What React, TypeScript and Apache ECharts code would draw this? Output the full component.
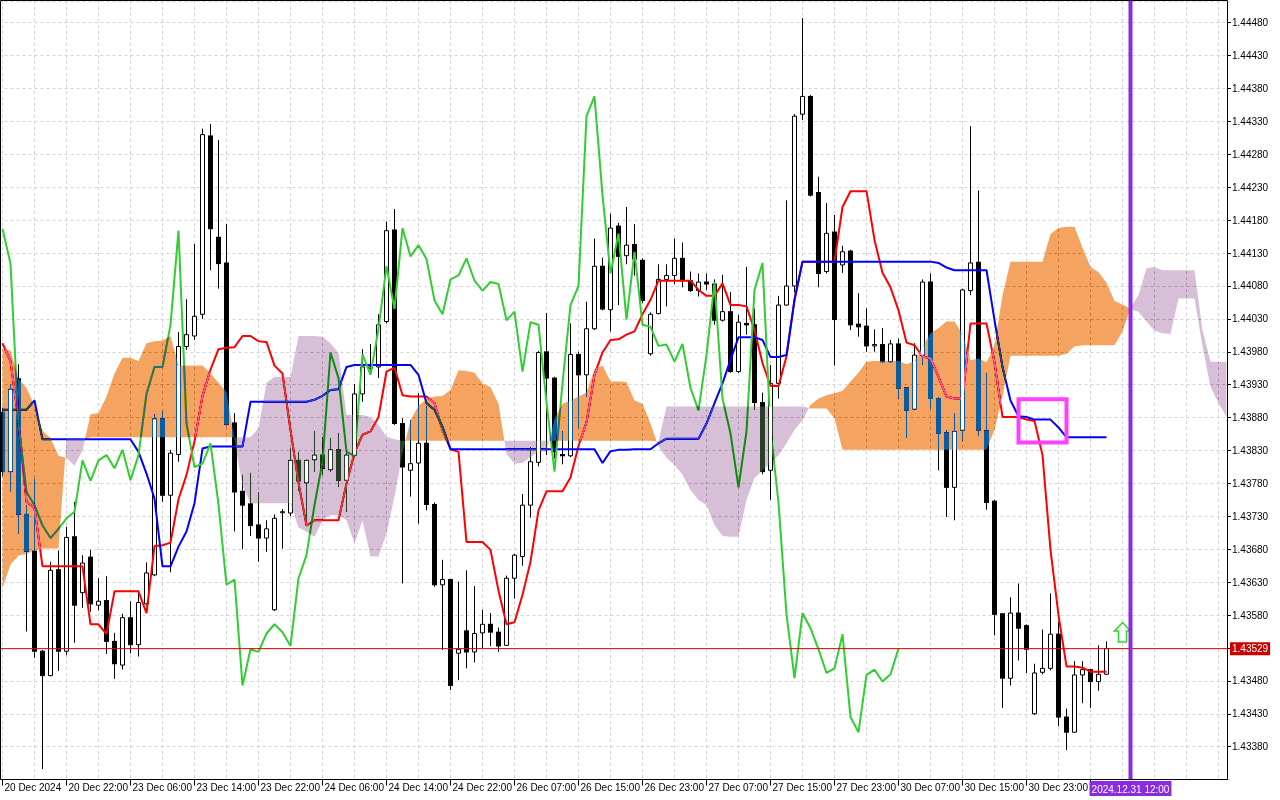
import React, { useEffect, useRef } from "react";
import * as echarts from "echarts";

// ---------- data (H1 bars, bar 0 = 20 Dec 14:00) ----------
const tickLabels = [
  "20 Dec 2024", "20 Dec 22:00", "23 Dec 06:00", "23 Dec 14:00", "23 Dec 22:00",
  "24 Dec 06:00", "24 Dec 14:00", "24 Dec 22:00", "26 Dec 07:00", "26 Dec 15:00",
  "26 Dec 23:00", "27 Dec 07:00", "27 Dec 15:00", "27 Dec 23:00", "30 Dec 07:00",
  "30 Dec 15:00", "30 Dec 23:00",
];

const open = [
  1.43888, 1.43798, 1.43939, 1.43733, 1.43677, 1.43525, 1.43488, 1.43649, 1.43525, 1.43699,
  1.43614, 1.43668, 1.43595, 1.43602, 1.43540, 1.43504, 1.43576, 1.43535, 1.43597, 1.43641,
  1.43878, 1.43762, 1.43824, 1.43988, 1.44004, 1.44037, 1.44308, 1.44154, 1.44115, 1.43872,
  1.43768, 1.43749, 1.43717, 1.43697, 1.43588, 1.43736, 1.43735, 1.43815, 1.43781, 1.43816,
  1.43823, 1.43801, 1.43831, 1.43785, 1.43823, 1.43916, 1.43955, 1.43957, 1.44026, 1.44165,
  1.43871, 1.43800, 1.43811, 1.43841, 1.43748, 1.43626, 1.43634, 1.43522, 1.43556, 1.43524,
  1.43553, 1.43566, 1.43554, 1.43534, 1.43636, 1.43669, 1.43747, 1.43812, 1.43980, 1.43940,
  1.43824, 1.43822, 1.43976, 1.43945, 1.44015, 1.44110, 1.44044, 1.44171, 1.44126, 1.44143,
  1.44119, 1.43977, 1.44038, 1.44090, 1.44096, 1.44122, 1.44088, 1.44073, 1.44086, 1.44083,
  1.44028, 1.44041, 1.43950, 1.44023, 1.44021, 1.43903, 1.43800, 1.43932, 1.44051, 1.44080,
  1.44341, 1.44368, 1.44222, 1.44102, 1.44162, 1.44112, 1.44133, 1.44022, 1.44019, 1.43989,
  1.43991, 1.43965, 1.43992, 1.43925, 1.43893, 1.43975, 1.44086, 1.43909, 1.43857, 1.43774,
  1.43861, 1.44073, 1.44116, 1.43860, 1.43753, 1.43582, 1.43484, 1.43583, 1.43564, 1.43430,
  1.43493, 1.43499, 1.43551, 1.43425, 1.43402, 1.43489, 1.43497, 1.43479, 1.43490,
];

const high = [
  1.43895, 1.43930, 1.43961, 1.43747, 1.43787, 1.43527, 1.43661, 1.43678, 1.43714, 1.43752,
  1.43671, 1.43679, 1.43636, 1.43639, 1.43553, 1.43582, 1.43601, 1.43617, 1.43660, 1.43885,
  1.43890, 1.43831, 1.44010, 1.44060, 1.44144, 1.44319, 1.44326, 1.44302, 1.44174, 1.43887,
  1.43793, 1.43796, 1.43767, 1.43724, 1.43733, 1.43741, 1.43833, 1.43828, 1.43816, 1.43859,
  1.43850, 1.43849, 1.43856, 1.43833, 1.43931, 1.43984, 1.43992, 1.44037, 1.44178, 1.44197,
  1.43879, 1.43876, 1.43917, 1.43897, 1.43751, 1.43664, 1.43635, 1.43631, 1.43648, 1.43624,
  1.43588, 1.43583, 1.43561, 1.43640, 1.43673, 1.43764, 1.43835, 1.43981, 1.44039, 1.43942,
  1.43859, 1.44023, 1.43980, 1.44056, 1.44152, 1.44123, 1.44190, 1.44176, 1.44200, 1.44174,
  1.44122, 1.44040, 1.44113, 1.44113, 1.44152, 1.44146, 1.44102, 1.44099, 1.44099, 1.44090,
  1.44097, 1.44071, 1.44036, 1.44109, 1.44046, 1.43918, 1.43960, 1.44065, 1.44210, 1.44341,
  1.44487, 1.44370, 1.44246, 1.44206, 1.44188, 1.44141, 1.44135, 1.44069, 1.44046, 1.44014,
  1.44016, 1.43998, 1.44000, 1.43926, 1.43993, 1.44090, 1.44099, 1.43911, 1.43861, 1.43887,
  1.44076, 1.44323, 1.44225, 1.43948, 1.43755, 1.43583, 1.43607, 1.43628, 1.43566, 1.43506,
  1.43558, 1.43613, 1.43570, 1.43438, 1.43510, 1.43510, 1.43498, 1.43534, 1.43540,
];

const low = [
  1.43791, 1.43768, 1.43704, 1.43555, 1.43515, 1.43346, 1.43487, 1.43495, 1.43519, 1.43538,
  1.43591, 1.43585, 1.43587, 1.43521, 1.43483, 1.43497, 1.43522, 1.43517, 1.43595, 1.43639,
  1.43752, 1.43645, 1.43813, 1.43983, 1.43998, 1.44030, 1.44104, 1.44076, 1.43867, 1.43707,
  1.43680, 1.43700, 1.43661, 1.43676, 1.43586, 1.43681, 1.43730, 1.43769, 1.43724, 1.43798,
  1.43793, 1.43798, 1.43775, 1.43737, 1.43821, 1.43904, 1.43945, 1.43940, 1.44023, 1.43869,
  1.43628, 1.43760, 1.43719, 1.43739, 1.43623, 1.43527, 1.43466, 1.43481, 1.43499, 1.43508,
  1.43530, 1.43533, 1.43524, 1.43533, 1.43605, 1.43655, 1.43728, 1.43806, 1.43823, 1.43818,
  1.43809, 1.43820, 1.43864, 1.43912, 1.44013, 1.44043, 1.44011, 1.44051, 1.44113, 1.44096,
  1.44054, 1.43974, 1.44037, 1.44049, 1.44083, 1.44078, 1.44071, 1.44064, 1.44074, 1.44021,
  1.44026, 1.43948, 1.43948, 1.44006, 1.43892, 1.43794, 1.43755, 1.43909, 1.44050, 1.44070,
  1.44332, 1.44216, 1.44078, 1.44099, 1.43959, 1.44100, 1.44013, 1.44003, 1.43980, 1.43980,
  1.43963, 1.43963, 1.43909, 1.43849, 1.43892, 1.43960, 1.43894, 1.43800, 1.43729, 1.43724,
  1.43845, 1.44066, 1.43852, 1.43740, 1.43549, 1.43439, 1.43473, 1.43511, 1.43492, 1.43428,
  1.43490, 1.43496, 1.43411, 1.43375, 1.43401, 1.43446, 1.43439, 1.43465, 1.43489,
];

const close = [
  1.43798, 1.43923, 1.43733, 1.43677, 1.43525, 1.43488, 1.43648, 1.43525, 1.43698, 1.43595,
  1.43659, 1.43597, 1.43601, 1.43540, 1.43506, 1.43576, 1.43535, 1.43599, 1.43644, 1.43878,
  1.43762, 1.43826, 1.43988, 1.44006, 1.44034, 1.44310, 1.44167, 1.44114, 1.43870, 1.43767,
  1.43747, 1.43716, 1.43697, 1.43711, 1.43727, 1.43737, 1.43815, 1.43784, 1.43815, 1.43823,
  1.43803, 1.43831, 1.43785, 1.43823, 1.43916, 1.43957, 1.43957, 1.44021, 1.44164, 1.43871,
  1.43805, 1.43810, 1.43841, 1.43748, 1.43626, 1.43634, 1.43473, 1.43528, 1.43524, 1.43552,
  1.43566, 1.43554, 1.43533, 1.43636, 1.43671, 1.43747, 1.43813, 1.43979, 1.43940, 1.43828,
  1.43822, 1.43976, 1.43945, 1.44015, 1.44110, 1.44045, 1.44168, 1.44125, 1.44142, 1.44121,
  1.44058, 1.44037, 1.44090, 1.44096, 1.44122, 1.44088, 1.44073, 1.44086, 1.44083, 1.44028,
  1.44041, 1.43950, 1.44025, 1.44021, 1.43903, 1.43798, 1.43932, 1.44051, 1.44080, 1.44338,
  1.44368, 1.44218, 1.44099, 1.44160, 1.44029, 1.44132, 1.44021, 1.44018, 1.43989, 1.43991,
  1.43965, 1.43992, 1.43925, 1.43891, 1.43975, 1.44086, 1.43909, 1.43856, 1.43774, 1.43859,
  1.44074, 1.44115, 1.43861, 1.43751, 1.43581, 1.43484, 1.43583, 1.43560, 1.43528, 1.43492,
  1.43499, 1.43551, 1.43425, 1.43402, 1.43489, 1.43497, 1.43479, 1.43490, 1.43529,
];

// Tenkan-sen (red)
const tenkan = [
  1.43993, 1.43966, 1.43876, 1.43752, 1.43743, 1.43654, 1.43654, 1.43654, 1.43654, 1.43654,
  1.43654, 1.43566, 1.43566, 1.43551, 1.43616, 1.43616, 1.43616, 1.43616, 1.43583, 1.43685,
  1.43686, 1.43690, 1.43756, 1.43793, 1.43844, 1.43913, 1.43953, 1.43984, 1.43986, 1.43987,
  1.44004, 1.44004, 1.43996, 1.43995, 1.43959, 1.43947, 1.43861, 1.43781, 1.43716, 1.43724,
  1.43724, 1.43724, 1.43724, 1.43780, 1.43826, 1.43854, 1.43859, 1.43881, 1.43950, 1.43956,
  1.43914, 1.43912, 1.43912, 1.43912, 1.43902, 1.43861, 1.43832, 1.43828, 1.43691, 1.43691,
  1.43691, 1.43679, 1.43617, 1.43566, 1.43569, 1.43611, 1.43661, 1.43739, 1.43768, 1.43768,
  1.43768, 1.43789, 1.43837, 1.43873, 1.43945, 1.43979, 1.43998, 1.43999, 1.44006, 1.44011,
  1.44037, 1.44059, 1.44088, 1.44088, 1.44088, 1.44088, 1.44088, 1.44074, 1.44065, 1.44065,
  1.44084, 1.44051, 1.44051, 1.44049, 1.44013, 1.43963, 1.43928, 1.43928, 1.43973, 1.44059,
  1.44117, 1.44117, 1.44117, 1.44117, 1.44117, 1.44200, 1.44224, 1.44224, 1.44224, 1.44150,
  1.44100, 1.44078, 1.44043, 1.43994, 1.43990, 1.43973, 1.43970, 1.43942, 1.43912, 1.43909,
  1.43909, 1.44023, 1.44023, 1.44023, 1.43964, 1.43881, 1.43881, 1.43881, 1.43877, 1.43875,
  1.43823, 1.43679, 1.43580, 1.43502, 1.43502, 1.43500, 1.43494, 1.43494, 1.43494,
];

// Kijun-sen (blue)
const kijun = [
  1.43892, 1.43892, 1.43892, 1.43892, 1.43906, 1.43847, 1.43847, 1.43847, 1.43847, 1.43847,
  1.43847, 1.43847, 1.43847, 1.43847, 1.43847, 1.43847, 1.43847, 1.43828, 1.43795, 1.43757,
  1.43654, 1.43654, 1.43684, 1.43707, 1.43750, 1.43833, 1.43836, 1.43836, 1.43836, 1.43836,
  1.43836, 1.43904, 1.43904, 1.43904, 1.43904, 1.43904, 1.43904, 1.43904, 1.43904, 1.43907,
  1.43913, 1.43922, 1.43923, 1.43957, 1.43960, 1.43960, 1.43960, 1.43960, 1.43960, 1.43960,
  1.43960, 1.43960, 1.43945, 1.43902, 1.43892, 1.43866, 1.43832, 1.43832, 1.43832, 1.43832,
  1.43832, 1.43832, 1.43832, 1.43832, 1.43832, 1.43832, 1.43832, 1.43832, 1.43832, 1.43832,
  1.43832, 1.43832, 1.43832, 1.43832, 1.43832, 1.43811, 1.43829, 1.43831, 1.43831, 1.43832,
  1.43832, 1.43832, 1.43841, 1.43848, 1.43848, 1.43848, 1.43848, 1.43848, 1.43871, 1.43902,
  1.43932, 1.43968, 1.44002, 1.44002, 1.44002, 1.43998, 1.43972, 1.43972, 1.43975, 1.44059,
  1.44117, 1.44117, 1.44117, 1.44117, 1.44117, 1.44117, 1.44117, 1.44117, 1.44117, 1.44117,
  1.44117, 1.44117, 1.44117, 1.44117, 1.44117, 1.44117, 1.44117, 1.44115, 1.44108, 1.44104,
  1.44104, 1.44104, 1.44104, 1.44104, 1.44028, 1.43957, 1.43906, 1.43882, 1.43881, 1.43877,
  1.43877, 1.43877, 1.43865, 1.43850, 1.43850, 1.43850, 1.43850, 1.43850, 1.43850,
];

// Senkou Span A (shifted 26 bars ahead, so it runs past the last candle)
const spanA = [
  1.43985, 1.43982, 1.43939, 1.43925, 1.43898, 1.43860, 1.43849, 1.43822, 1.43819, 1.43807,
  1.43830, 1.43885, 1.43887, 1.43912, 1.43947, 1.43971, 1.43971, 1.43966, 1.43993, 1.43996,
  1.43997, 1.44004, 1.43959, 1.43959, 1.43959, 1.43959, 1.43947, 1.43933, 1.43919, 1.43846,
  1.43776, 1.43750, 1.43750, 1.43750, 1.43750, 1.43750, 1.43750, 1.43713, 1.43707, 1.43699,
  1.43724, 1.43732, 1.43732, 1.43724, 1.43689, 1.43724, 1.43669, 1.43669, 1.43704, 1.43760,
  1.43826, 1.43876, 1.43898, 1.43908, 1.43912, 1.43913, 1.43922, 1.43952, 1.43951, 1.43948,
  1.43932, 1.43926, 1.43901, 1.43825, 1.43810, 1.43811, 1.43820, 1.43828, 1.43829, 1.43878,
  1.43901, 1.43906, 1.43912, 1.43918, 1.43954, 1.43959, 1.43935, 1.43935, 1.43934, 1.43906,
  1.43901, 1.43871, 1.43836, 1.43819, 1.43808, 1.43793, 1.43770, 1.43755, 1.43747, 1.43717,
  1.43700, 1.43699, 1.43699, 1.43755, 1.43788, 1.43800, 1.43811, 1.43823, 1.43841, 1.43861,
  1.43876, 1.43899, 1.43909, 1.43914, 1.43917, 1.43921, 1.43935, 1.43948, 1.43965, 1.43966,
  1.43966, 1.43966, 1.43966, 1.43961, 1.43966, 1.43988, 1.44008, 1.44016, 1.44026, 1.44026,
  1.44007, 1.43967, 1.43970, 1.43964, 1.43989, 1.44066, 1.44117, 1.44117, 1.44117, 1.44117,
  1.44117, 1.44159, 1.44168, 1.44170, 1.44170, 1.44138, 1.44109, 1.44101, 1.44085, 1.44057,
  1.44052, 1.44045, 1.44041, 1.44026, 1.44012, 1.44008, 1.44007, 1.44061, 1.44061, 1.44061,
  1.43988, 1.43927, 1.43902, 1.43881,
];

// Senkou Span B
const spanB = [
  1.43621, 1.43657, 1.43670, 1.43673, 1.43678, 1.43681, 1.43681, 1.43681, 1.43847, 1.43847,
  1.43847, 1.43850, 1.43850, 1.43850, 1.43850, 1.43850, 1.43850, 1.43850, 1.43850, 1.43850,
  1.43850, 1.43850, 1.43850, 1.43850, 1.43850, 1.43850, 1.43850, 1.43850, 1.43850, 1.43850,
  1.43850, 1.43850, 1.43864, 1.43933, 1.43942, 1.43942, 1.43942, 1.44004, 1.44004, 1.44004,
  1.44003, 1.43993, 1.43978, 1.43884, 1.43884, 1.43884, 1.43881, 1.43869, 1.43851, 1.43847,
  1.43845, 1.43845, 1.43845, 1.43845, 1.43845, 1.43845, 1.43845, 1.43845, 1.43845, 1.43845,
  1.43845, 1.43845, 1.43845, 1.43845, 1.43845, 1.43845, 1.43845, 1.43845, 1.43845, 1.43845,
  1.43845, 1.43845, 1.43845, 1.43845, 1.43845, 1.43845, 1.43845, 1.43845, 1.43845, 1.43845,
  1.43845, 1.43845, 1.43844, 1.43897, 1.43897, 1.43897, 1.43897, 1.43897, 1.43897, 1.43897,
  1.43897, 1.43897, 1.43897, 1.43897, 1.43897, 1.43897, 1.43897, 1.43897, 1.43897, 1.43897,
  1.43897, 1.43894, 1.43894, 1.43894, 1.43879, 1.43831, 1.43831, 1.43831, 1.43831, 1.43831,
  1.43831, 1.43831, 1.43831, 1.43831, 1.43831, 1.43831, 1.43831, 1.43831, 1.43831, 1.43831,
  1.43831, 1.43831, 1.43831, 1.43831, 1.43861, 1.43913, 1.43974, 1.43974, 1.43974, 1.43974,
  1.43974, 1.43974, 1.43974, 1.43977, 1.43988, 1.43990, 1.43990, 1.43990, 1.43990, 1.43990,
  1.44011, 1.44047, 1.44066, 1.44107, 1.44109, 1.44104, 1.44104, 1.44104, 1.44104, 1.44104,
  1.44013, 1.43965, 1.43965, 1.43965,
];

const CHIKOU_SHIFT = 26; // Chikou span = closes displayed 26 bars back
const TOTAL_BARS = 154;
const bidPrice = 1.43529;
const vlineBar = 141;
const vlineLabel = "2024.12.31 12:00";
const rectBars = [127, 133];
const rectPrices = [1.43842, 1.43908];
const arrowBar = 140;
const arrowPrice = 1.43539;

const yMin = 1.4333;
const yMax = 1.44513;
const yStep = 0.0005;

// ---------- style ----------
const FONT = '"Liberation Sans", Arial, sans-serif';
const GRID_COLOR = "#d4d4d4";
const AXIS_OFFSET = 3.5;
// cloud is painted with a "difference" blend: on white these give sandybrown / thistle
const BULL_CLOUD = "#0B5B9F";
const BEAR_CLOUD = "#274027";

const blendCss = `
path[fill="#0B5B9F" i], path[fill="#274027" i] { mix-blend-mode: difference; }
`;

function renderCandle(_params: any, api: any) {
  const i = api.value(0);
  const o = api.value(1);
  const c = api.value(2);
  const l = api.value(3);
  const h = api.value(4);
  const [x, yo] = api.coord([i, o]);
  const yc = api.coord([i, c])[1];
  const yl = api.coord([i, l])[1];
  const yh = api.coord([i, h])[1];
  const top = Math.min(yo, yc);
  const bot = Math.max(yo, yc);
  const children: any[] = [
    { type: "line", shape: { x1: x, y1: yh, x2: x, y2: yl }, style: { stroke: "#000", lineWidth: 1 } },
  ];
  if (c > o) {
    children.push({
      type: "rect",
      shape: { x: x - 2, y: top, width: 4, height: Math.max(bot - top, 1) },
      style: { fill: "#fff", stroke: "#000", lineWidth: 1 },
    });
  } else if (c < o) {
    children.push({
      type: "rect",
      shape: { x: x - 2.5, y: top - 0.5, width: 5, height: Math.max(bot - top + 1, 1) },
      style: { fill: "#000" },
    });
  } else {
    children.push({ type: "line", shape: { x1: x - 2.5, y1: yo, x2: x + 2.5, y2: yo }, style: { stroke: "#000", lineWidth: 1 } });
  }
  return { type: "group", children };
}

function renderBullFill(_params: any, api: any) {
  const i = api.value(0);
  const o = api.value(1);
  const c = api.value(2);
  const lo = Math.max(o, Math.min(spanA[i], spanB[i]));
  const hi = Math.min(c, Math.max(spanA[i], spanB[i]));
  if (!(hi > lo)) return { type: "group", children: [] };
  const [x, yHi] = api.coord([i, hi]);
  const yLo = api.coord([i, lo])[1];
  const yBodyTop = api.coord([i, c])[1] + 0.5;
  const yBodyBot = api.coord([i, o])[1] - 0.5;
  const y1 = Math.max(yHi, yBodyTop);
  const y2 = Math.min(yLo, yBodyBot);
  if (!(y2 > y1)) return { type: "group", children: [] };
  return {
    type: "group",
    children: [{ type: "rect", shape: { x: x - 1.5, y: y1, width: 3, height: y2 - y1 }, style: { fill: "#fff" } }],
  };
}

function renderCloud(_params: any, api: any) {
  const n = spanA.length;
  const xs: number[] = [];
  for (let i = 0; i < n; i++) xs.push(api.coord([i, spanA[i]])[0]);
  const yOf = (v: number) => api.coord([0, v])[1];
  type Node = { x: number; a: number; b: number };
  const nodes: Node[] = [];
  for (let i = 0; i < n; i++) {
    nodes.push({ x: xs[i], a: spanA[i], b: spanB[i] });
    if (i < n - 1) {
      const d0 = spanA[i] - spanB[i];
      const d1 = spanA[i + 1] - spanB[i + 1];
      if (d0 * d1 < 0) {
        const t = d0 / (d0 - d1);
        const v = spanA[i] + t * (spanA[i + 1] - spanA[i]);
        nodes.push({ x: xs[i] + t * (xs[i + 1] - xs[i]), a: v, b: v });
      }
    }
  }
  const children: any[] = [];
  const emit = (run: Node[], sign: number) => {
    const pts = run
      .map((p) => [p.x, yOf(p.a)])
      .concat(run.slice().reverse().map((p) => [p.x, yOf(p.b)]));
    children.push({
      type: "polygon",
      shape: { points: pts },
      style: { fill: sign > 0 ? BULL_CLOUD : BEAR_CLOUD, blend: "difference" },
    });
  };
  let run: Node[] = [nodes[0]];
  let sign = 0;
  for (let j = 1; j < nodes.length; j++) {
    const p = nodes[j - 1];
    const q = nodes[j];
    let s = Math.sign(p.a - p.b + (q.a - q.b));
    if (s === 0) s = sign || 1;
    if (sign !== 0 && s !== sign) {
      emit(run, sign);
      run = [p];
    }
    sign = s;
    run.push(q);
  }
  emit(run, sign);
  return { type: "group", children };
}

function renderAnnotations(params: any, api: any) {
  const cs = params.coordSys;
  const plotRight = cs.x + cs.width - AXIS_OFFSET;
  const plotLeft = Math.max(cs.x, 1);
  const yBid = api.coord([0, bidPrice])[1];
  const xV = api.coord([vlineBar, bidPrice])[0];
  const r1 = api.coord([rectBars[0], rectPrices[1]]);
  const r2 = api.coord([rectBars[1], rectPrices[0]]);
  const [ax, ay] = api.coord([arrowBar, arrowPrice]);
  const arrow = [
    [ax, ay - 19.5], [ax + 8, ay - 11], [ax + 4, ay - 11], [ax + 4, ay],
    [ax - 4, ay], [ax - 4, ay - 11], [ax - 8, ay - 11],
  ];
  return {
    type: "group",
    children: [
      { type: "line", shape: { x1: plotLeft, y1: yBid, x2: plotRight, y2: yBid }, style: { stroke: "#e00000", lineWidth: 1 } },
      {
        type: "text",
        x: plotRight + 3,
        y: yBid,
        style: {
          text: bidPrice.toFixed(5), fill: "#fff", backgroundColor: "#c80000", padding: [2, 2, 1, 2],
          fontSize: 10, fontFamily: FONT, align: "left", verticalAlign: "middle",
        },
      },
      {
        type: "rect",
        shape: { x: r1[0], y: r1[1], width: r2[0] - r1[0], height: r2[1] - r1[1] },
        style: { fill: "none", stroke: "#ff40ff", lineWidth: 4 },
      },
      {
        type: "polygon",
        shape: { points: arrow },
        style: { fill: "#ffffff", stroke: "#33d633", lineWidth: 1.6 },
      },
      { type: "line", shape: { x1: xV, y1: cs.y, x2: xV, y2: cs.y + cs.height }, style: { stroke: "#8a2be2", lineWidth: 4 } },
      {
        type: "text",
        x: xV,
        y: cs.y + cs.height + 1.5,
        style: {
          text: vlineLabel, fill: "#fff", backgroundColor: "#8a2be2", padding: [3, 2, 2, 2],
          fontSize: 10, fontFamily: FONT, align: "center", verticalAlign: "top",
        },
      },
    ],
  };
}

export default function App() {
  const ref = useRef<HTMLDivElement>(null);

  useEffect(() => {
    if (!ref.current) return;
    const chart = echarts.init(ref.current, null, { renderer: "svg" });
    const cats = Array.from({ length: TOTAL_BARS }, (_, i) => String(i));
    const candleData = open.map((o, i) => [i, o, close[i], low[i], high[i]]);
    const bullData = open
      .map((o, i) => [i, o, close[i]])
      .filter((d) => d[2] > d[1]);
    const chikou = close.slice(CHIKOU_SHIFT);

    const option: any = {
      animation: false,
      backgroundColor: "#ffffff",
      textStyle: { fontFamily: FONT },
      grid: { left: -1.5, right: 49.5, top: 1, bottom: 20.4, containLabel: false, outerBoundsMode: "none" },
      xAxis: {
        type: "category",
        data: cats,
        boundaryGap: true,
        axisLine: { show: false },
        axisTick: {
          show: true,
          alignWithLabel: true,
          interval: (i: number) => i % 8 === 0 && i <= 136,
          length: 6,
          lineStyle: { color: "#000", width: 1 },
        },
        axisLabel: {
          interval: (i: number) => i % 8 === 0 && i / 8 < tickLabels.length,
          formatter: (_v: string, i: number) => tickLabels[i / 8] ?? "",
          align: "left",
          margin: 3,
          padding: [0, 0, 0, 2],
          color: "#000",
          fontSize: 10,
          fontFamily: FONT,
        },
        splitLine: {
          show: true,
          alignWithLabel: true,
          interval: (i: number) => i % 4 === 0,
          lineStyle: { color: GRID_COLOR, type: [3, 3], width: 1 },
        },
      },
      yAxis: {
        type: "value",
        position: "right",
        min: yMin,
        max: yMax,
        interval: yStep,
        offset: -AXIS_OFFSET,
        axisLine: { show: false },
        axisTick: { show: true, length: 4, lineStyle: { color: "#000", width: 1 } },
        axisLabel: {
          showMinLabel: false,
          showMaxLabel: false,
          margin: 5,
          formatter: (v: number) => v.toFixed(5),
          color: "#000",
          fontSize: 10,
          fontFamily: FONT,
        },
        splitLine: { show: true, lineStyle: { color: GRID_COLOR, type: [3, 3], width: 1 } },
      },
      series: [
        {
          type: "custom",
          name: "candles",
          data: candleData,
          encode: { x: 0, y: [1, 2, 3, 4] },
          renderItem: renderCandle,
          silent: true,
          z: 2,
        },
        {
          type: "line", name: "tenkan", data: tenkan, symbol: "none", showSymbol: false, silent: true, z: 3,
          lineStyle: { color: "#ff0000", width: 2 },
        },
        {
          type: "line", name: "kijun", data: kijun, symbol: "none", showSymbol: false, silent: true, z: 3,
          lineStyle: { color: "#0000ff", width: 2 },
        },
        {
          type: "line", name: "chikou", data: chikou, symbol: "none", showSymbol: false, silent: true, z: 3,
          lineStyle: { color: "#32cd32", width: 2 },
        },
        {
          type: "custom",
          name: "cloud",
          data: [[0, spanA[0]]],
          encode: { x: 0, y: 1 },
          renderItem: renderCloud,
          silent: true,
          z: 4,
        },
        {
          type: "custom",
          name: "bullFill",
          data: bullData,
          encode: { x: 0, y: [1, 2] },
          renderItem: renderBullFill,
          silent: true,
          z: 5,
        },
        {
          type: "custom",
          name: "annotations",
          data: [[0, bidPrice]],
          encode: { x: 0, y: 1 },
          renderItem: renderAnnotations,
          silent: true,
          clip: false,
          z: 6,
        },
      ],
      graphic: [
        {
          type: "rect",
          shape: { x: 0.5, y: 0.5, width: 1227, height: 779 },
          style: { fill: "none", stroke: "#000", lineWidth: 1 },
          silent: true,
          z: 100,
        },
      ],
    };
    chart.setOption(option);
    return () => chart.dispose();
  }, []);

  return (
    <>
      <style>{blendCss}</style>
      <div
        ref={ref}
        style={{ position: "fixed", left: 0, top: 0, width: 1280, height: 800, background: "#fff" }}
      />
    </>
  );
}
